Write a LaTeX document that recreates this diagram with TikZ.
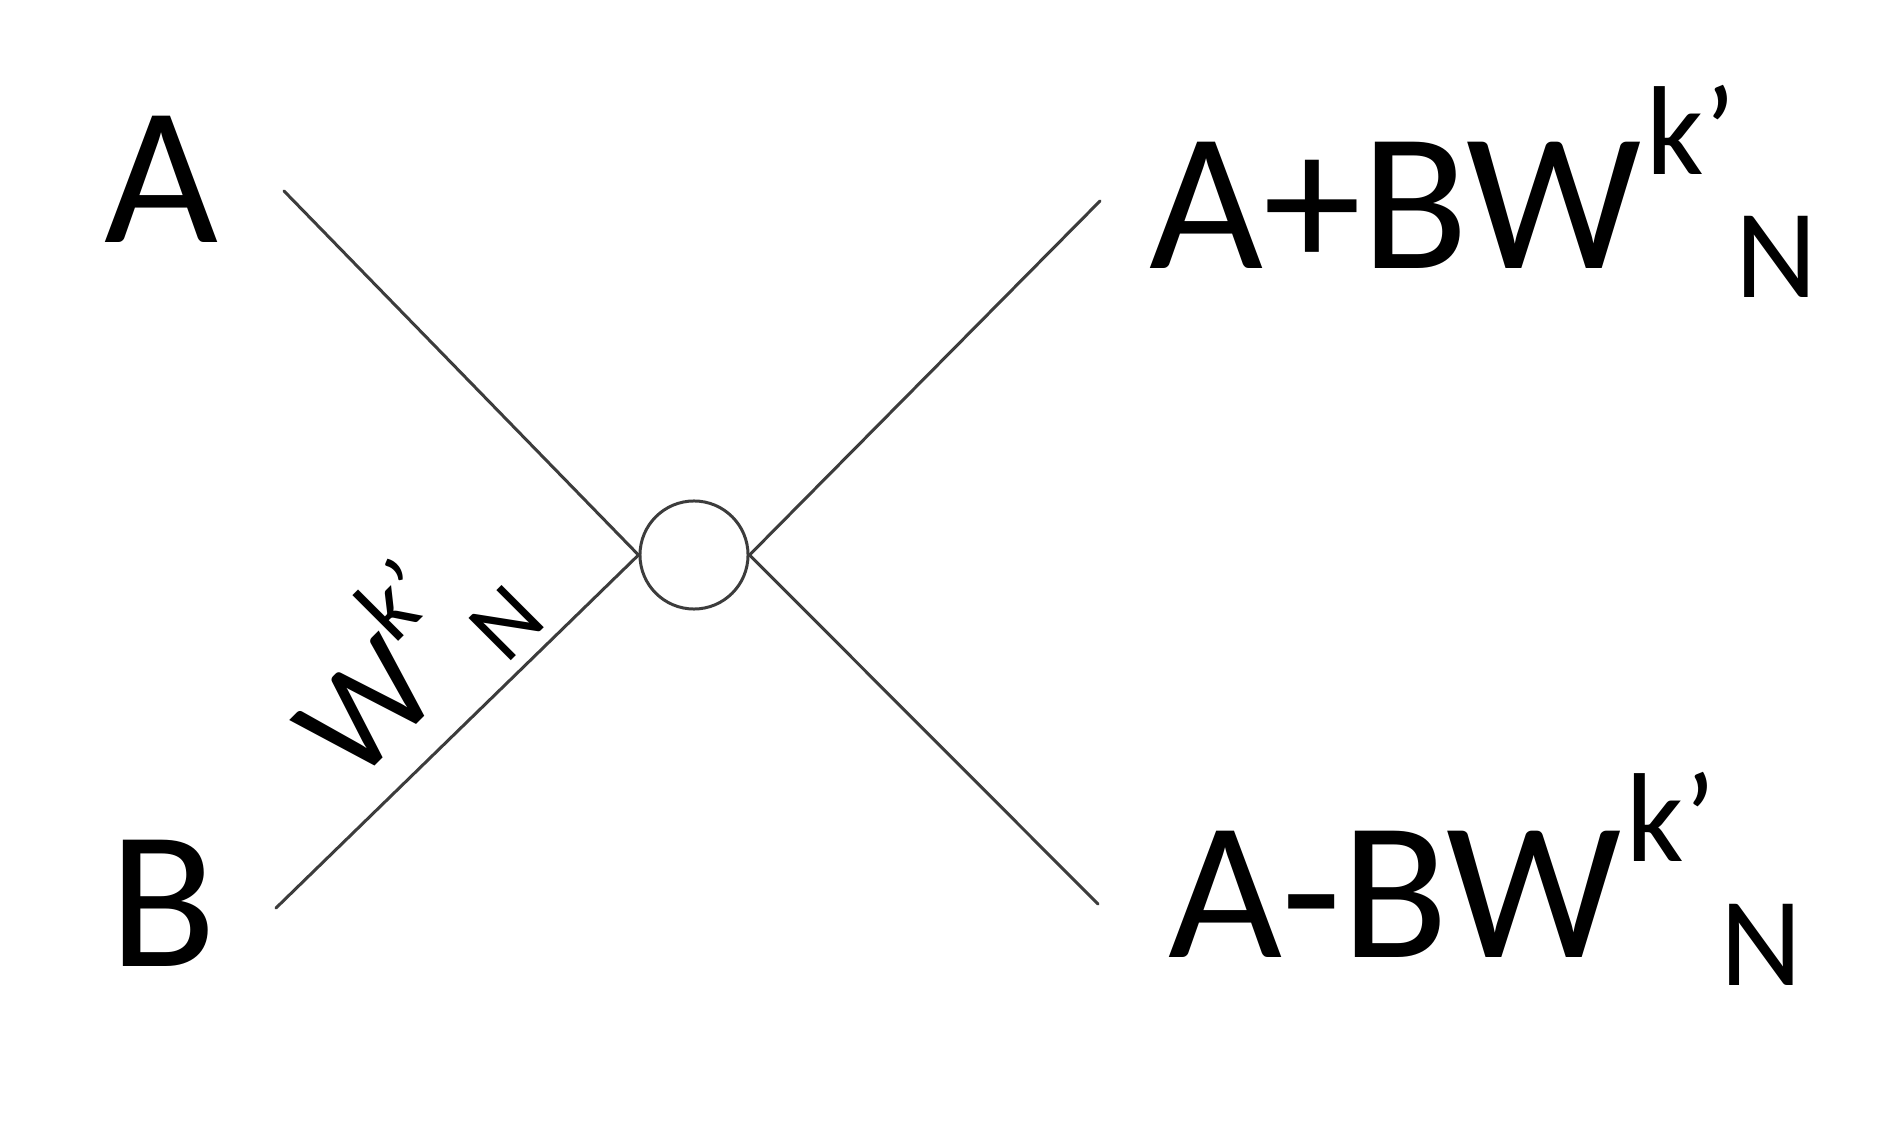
\documentclass[tikz,border=0pt]{standalone}
\usepackage{fontspec}
\setmainfont{Carlito}
\usepackage{graphicx}
\definecolor{linegray}{HTML}{3C3C3C}
\begin{document}
\begin{tikzpicture}[x=0.01cm,y=-0.01cm,
  wire/.style={draw=linegray, line width=0.85pt, line cap=round},
  bigtxt/.style={inner sep=0pt, anchor=base west, font=\fontsize{56pt}{66pt}\selectfont},
  outtxt/.style={inner sep=0pt, anchor=base west}]
\useasboundingbox (0,0) rectangle (1888,1125);
\fill[white] (0,0) rectangle (1888,1125);
% butterfly node
\node[circle, draw=linegray, line width=0.85pt, minimum size=1.08cm, inner sep=0pt] (c) at (694,555) {};
% end points
\coordinate (pA) at (284,191);
\coordinate (pB) at (276,908);
\coordinate (pU) at (1100,201);
\coordinate (pL) at (1098,904);
\draw[wire] (pA) -- (c.west);
\draw[wire] (pB) -- (c.west);
\draw[wire] (c.east) -- (pU);
\draw[wire] (c.east) -- (pL);
% input labels
\node[bigtxt] (la) at (104,243) {A};
\node[bigtxt] (lb) at (109,966) {B};
% output labels
\node[outtxt] (lu) at (1149,268.5) {\fontsize{56pt}{66pt}\selectfont A+BW\hspace{0.05cm}\raisebox{0.94cm}{\fontsize{36pt}{42pt}\selectfont k’}\raisebox{-0.29cm}{\fontsize{36pt}{42pt}\selectfont N}};
\node[outtxt] (ll) at (1168,957) {\fontsize{56pt}{66pt}\selectfont A-BW\hspace{0.05cm}\raisebox{0.95cm}{\fontsize{36pt}{42pt}\selectfont k’}\hspace{0.05cm}\raisebox{-0.28cm}{\fontsize{36pt}{42pt}\selectfont N}};
% twiddle factor label
\node[outtxt, rotate=45] (tw) at (354,787.4) {\fontsize{41pt}{48pt}\selectfont W\raisebox{0.716cm}{\fontsize{26.5pt}{32pt}\selectfont k’}\raisebox{-0.215cm}{\fontsize{26.5pt}{32pt}\selectfont N}};
\end{tikzpicture}
\end{document}
